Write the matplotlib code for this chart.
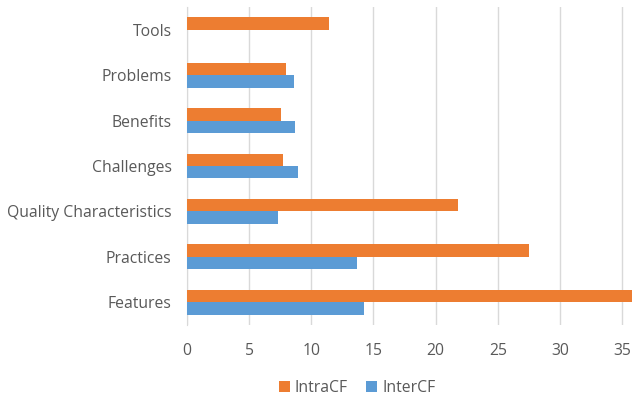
import numpy as np
import matplotlib.pyplot as plt

categories = ["Features", "Practices", "Quality Characteristics", "Challenges",
              "Benefits", "Problems", "Tools"]
intra_cf = [36.5, 27.5, 21.8, 7.7, 7.6, 8.0, 11.4]
inter_cf = [14.2, 13.7, 7.3, 8.9, 8.7, 8.6, 0]
x_ticks = [0, 5, 10, 15, 20, 25, 30, 35]

plt.rcParams['font.family'] = ['Open Sans', 'DejaVu Sans']
text_color = '#595959'


def main():
    fig = plt.figure(figsize=(6.32, 4.0), dpi=100)
    ax = fig.add_axes([187 / 632, 1 - 325 / 400, 1 - 187 / 632, (325 - 7) / 400])

    y = np.arange(len(categories))
    h = 0.275
    ax.barh(y + h / 2, intra_cf, height=h, color='#ED7D31', label='IntraCF', zorder=3)
    ax.barh(y - h / 2, inter_cf, height=h, color='#5B9BD5', label='InterCF', zorder=3)

    ax.set_xlim(0, 35.8)
    ax.set_ylim(-0.5, len(categories) - 0.5)
    ax.set_xticks(x_ticks)
    ax.set_yticks(y)
    ax.set_yticklabels(categories)
    ax.tick_params(axis='both', length=0, colors=text_color, labelsize=11.3)
    ax.tick_params(axis='x', pad=13)
    ax.tick_params(axis='y', pad=11)
    ax.grid(axis='x', color='#d9d9d9', linewidth=1, zorder=0)
    for s in ['top', 'right', 'bottom']:
        ax.spines[s].set_visible(False)
    ax.spines['left'].set_color('#d9d9d9')

    fig.legend(loc='center', bbox_to_anchor=(0.565, 1 - 388 / 400), ncol=2, frameon=False,
               fontsize=11.3, labelcolor=text_color, handlelength=0.7, handleheight=0.7,
               handletextpad=0.3, columnspacing=1.2)

    fig.savefig('out.png', dpi=100)


if __name__ == "__main__":
    main()
